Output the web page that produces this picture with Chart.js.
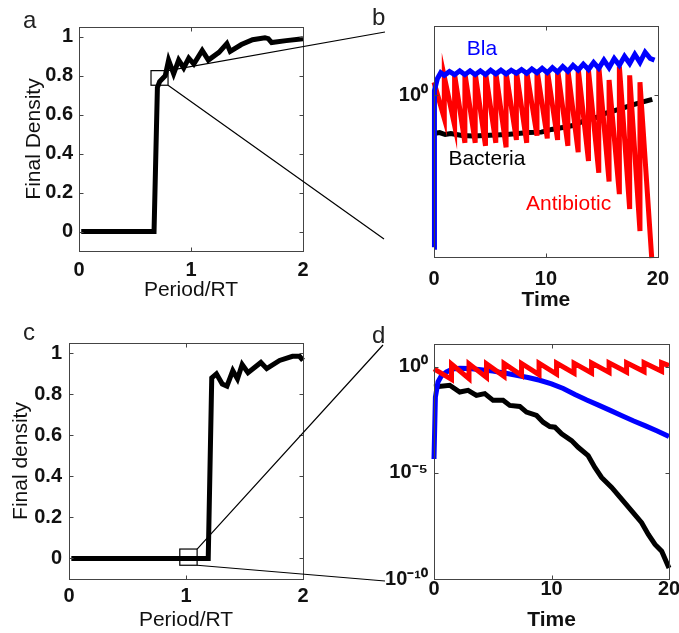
<!DOCTYPE html>
<html>
<head>
<meta charset="utf-8">
<title>Final density and time courses</title>
<script src="https://cdn.jsdelivr.net/npm/chart.js@4.4.1/dist/chart.umd.min.js"></script>
<style>
  body { margin: 0; background: #fff; }
  #fig { position: relative; width: 679px; height: 633px; background: #fff; }
  #fig canvas { position: absolute; left: 0; top: 0; }
</style>
</head>
<body>
<div id="fig">
  <canvas id="panelA" width="679" height="633"></canvas>
  <canvas id="panelB" width="679" height="633"></canvas>
  <canvas id="panelC" width="679" height="633"></canvas>
  <canvas id="panelD" width="679" height="633"></canvas>
</div>
<script>
// final density against dosing period, top row (a)
var aPeriod  = [0.02, 0.67, 0.70, 0.72, 0.77, 0.80, 0.845, 0.89, 0.935, 0.98, 1.025, 1.10, 1.155, 1.25, 1.32, 1.35, 1.45, 1.55, 1.66, 1.69, 1.72, 1.85, 2.0];
var aDensity = [0, 0, 0.74, 0.77, 0.80, 0.88, 0.81, 0.88, 0.84, 0.89, 0.86, 0.93, 0.88, 0.92, 0.965, 0.925, 0.96, 0.985, 0.995, 0.99, 0.97, 0.98, 0.99];

// final density against dosing period, bottom row (c)
var cPeriod  = [0.02, 1.19, 1.22, 1.26, 1.31, 1.35, 1.40, 1.44, 1.48, 1.53, 1.64, 1.69, 1.80, 1.91, 1.97, 2.0];
var cDensity = [0, 0, 0.88, 0.90, 0.85, 0.84, 0.915, 0.875, 0.945, 0.905, 0.955, 0.925, 0.965, 0.985, 0.985, 0.965];

// time courses, top right (b)
var bBlaTime = [0, 0.04, 0.3, 0.6, 0.92, 1.38, 1.84, 2.3, 2.76, 3.22, 3.68, 4.14, 4.6, 5.06, 5.52, 5.98, 6.44, 6.9, 7.36, 7.82, 8.28, 8.74, 9.2, 9.66, 10.12, 10.58, 11.04, 11.5, 11.96, 12.42, 12.88, 13.34, 13.8, 14.26, 14.72, 15.18, 15.64, 16.1, 16.56, 17.02, 17.48, 17.94, 18.4, 18.86, 19.32, 19.7];
var bBla     = [0.165, 1.06, 1.22, 1.31, 1.27, 1.33, 1.28, 1.34, 1.28, 1.34, 1.28, 1.34, 1.28, 1.35, 1.29, 1.35, 1.29, 1.35, 1.30, 1.36, 1.30, 1.37, 1.31, 1.38, 1.31, 1.39, 1.32, 1.41, 1.33, 1.43, 1.35, 1.45, 1.36, 1.48, 1.38, 1.52, 1.39, 1.55, 1.43, 1.59, 1.46, 1.63, 1.48, 1.67, 1.55, 1.52];
var bBacteriaTime = [0, 0.5, 1, 1.5, 2.5, 3.5, 4.5, 5.5, 6.5, 7.5, 8.5, 9.6, 10.5, 11.5, 12.4, 13.5, 14.5, 15.3, 16.5, 17.6, 18.5, 19.5];
var bBacteria     = [0.637, 0.644, 0.629, 0.637, 0.622, 0.618, 0.622, 0.626, 0.629, 0.637, 0.644, 0.647, 0.668, 0.684, 0.700, 0.743, 0.770, 0.808, 0.847, 0.888, 0.920, 0.954];
var bDoseTime   = [0, 0.92, 1.84, 2.76, 3.68, 4.6, 5.52, 6.44, 7.36, 8.28, 9.2, 10.12, 11.04, 11.96, 12.88, 13.8, 14.72, 15.64, 16.56, 17.48, 18.4];
var bDosePeak   = [1.17, 1.25, 1.28, 1.30, 1.30, 1.31, 1.31, 1.31, 1.33, 1.33, 1.35, 1.35, 1.36, 1.36, 1.38, 1.35, 1.41, 1.20, 1.41, 1.27, 1.17];
var bDoseTrough = [0.76, 0.70, 0.57, 0.57, 0.55, 0.57, 0.54, 0.59, 0.57, 0.62, 0.60, 0.59, 0.55, 0.51, 0.46, 0.40, 0.36, 0.31, 0.26, 0.20, 0.145];
var bLastTime = 19.45;

// time courses, bottom right (d)
var dBlaTime = [0, 0.12, 0.34, 0.6, 1.06, 1.6, 2.2, 3, 4, 5, 6, 7, 8, 9, 10, 11, 12, 13, 14, 15, 16, 17, 18, 19, 20];
var dBla     = [4.57e-5, 0.038, 0.195, 0.355, 0.575, 0.794, 0.851, 0.832, 0.741, 0.631, 0.513, 0.407, 0.316, 0.234, 0.158, 0.0955, 0.0501, 0.0275, 0.0158, 0.00891, 0.00501, 0.00282, 0.00166, 9.55e-4, 5.25e-4];
var dBacteriaTime = [0, 1.34, 2.19, 2.90, 3.61, 4.32, 5.03, 5.88, 6.45, 7.30, 7.87, 8.73, 9.29, 9.86, 10.29, 10.86, 11.71, 12.27, 13.12, 13.69, 14.26, 15.12, 15.97, 16.82, 17.67, 18.24, 18.81, 19.38, 20.0];
var dBacteria     = [0.1127, 0.1358, 0.0653, 0.0787, 0.0456, 0.0548, 0.0264, 0.0264, 0.0153, 0.0137, 0.00736, 0.00514, 0.00247, 0.00155, 0.00143, 6.98e-4, 3.36e-4, 1.62e-4, 6.53e-5, 1.82e-5, 6.12e-6, 2.06e-6, 5.79e-7, 1.62e-7, 4.51e-8, 1.27e-8, 4.27e-9, 2.06e-9, 3.32e-10];
var dDoseTime   = [0, 1.49, 2.98, 4.47, 5.96, 7.45, 8.94, 10.43, 11.92, 13.41, 14.9, 16.39, 17.88, 19.37];
var dDosePeak   = [0.80, 1.35, 1.40, 1.40, 1.45, 1.45, 1.50, 1.50, 1.50, 1.55, 1.55, 1.55, 1.58, 1.58];
var dDoseTrough = [0.26, 0.28, 0.32, 0.36, 0.40, 0.43, 0.46, 0.50, 0.52, 0.55, 0.57, 0.60, 0.62, 1.15];
var dLastTime = 20;

// tick labels
var densityTicks = [0, 0.2, 0.4, 0.6, 0.8, 1];
var periodTicks = [0, 1, 2];
var timeTicks = [0, 10, 20];
var bLogTicks = [1];
var dLogTicks = [1e-10, 1e-5, 1];

var FONT = "'Liberation Sans', Arial, Helvetica, sans-serif";
var SUP = {'-': '\u207B', '0': '\u2070', '1': '\u00B9', '5': '\u2075'};

function pow10(v) {
  var e = String(Math.round(Math.log10(v)));
  return '10' + e.split('').map(function (c) { return SUP[c]; }).join('');
}

function xy(xs, ys) {
  return xs.map(function (x, i) { return {x: x, y: ys[i]}; });
}

// each dose jumps the antibiotic up to its peak, then it decays to a trough at the next dose
function doses(times, peaks, troughs, end) {
  var pts = [];
  times.forEach(function (t, i) {
    pts.push({x: t, y: peaks[i]});
    pts.push({x: i + 1 < times.length ? times[i + 1] : end, y: troughs[i]});
  });
  return pts;
}

function line(data, color, order) {
  return {data: data, borderColor: color, borderWidth: 5, pointRadius: 0, tension: 0, fill: false,
          clip: 3, order: order || 0};
}

function axis(o) {
  return {
    type: o.type || 'linear',
    min: o.min,
    max: o.max,
    grid: {display: false, drawTicks: false},
    border: {display: false},
    ticks: {
      font: {family: FONT, size: 20, weight: 'bold'},
      color: '#111',
      padding: o.pad,
      autoSkip: false,
      maxRotation: 0,
      callback: o.fmt || function (v) { return String(v); }
    },
    title: o.title ? {
      display: true,
      text: o.title,
      font: {family: FONT, size: 21, weight: o.bold ? 'bold' : 'normal'},
      color: '#111',
      padding: o.titlePad
    } : {display: false},
    afterBuildTicks: function (s) {
      s.ticks = o.ticks.map(function (v) { return {value: v}; });
    },
    afterFit: function (s) {
      if (s.isHorizontal()) s.height = o.size; else s.width = o.size;
    }
  };
}

// axes box with inward ticks on all four sides, plus whatever the panel adds
function frame(extra) {
  return {
    id: 'frame',
    afterDraw: function (chart) {
      var ctx = chart.ctx, a = chart.chartArea, sx = chart.scales.x, sy = chart.scales.y;
      var L = Math.round(a.left) + 0.5, R = Math.round(a.right) + 0.5;
      var T = Math.round(a.top) + 0.5, B = Math.round(a.bottom) + 0.5;
      ctx.save();
      ctx.strokeStyle = '#444';
      ctx.lineWidth = 1;
      ctx.strokeRect(L, T, R - L, B - T);
      ctx.beginPath();
      sx.ticks.forEach(function (t) {
        var p = Math.round(sx.getPixelForValue(t.value)) + 0.5;
        ctx.moveTo(p, B); ctx.lineTo(p, B - 4);
        ctx.moveTo(p, T); ctx.lineTo(p, T + 4);
      });
      sy.ticks.forEach(function (t) {
        var p = Math.round(sy.getPixelForValue(t.value)) + 0.5;
        ctx.moveTo(L, p); ctx.lineTo(L + 4, p);
        ctx.moveTo(R, p); ctx.lineTo(R - 4, p);
      });
      ctx.stroke();
      if (extra) extra(ctx, sx, sy);
      ctx.restore();
    }
  };
}

function letter(ctx, s, x, y) {
  ctx.font = '24px ' + FONT;
  ctx.fillStyle = '#222';
  ctx.textAlign = 'left';
  ctx.textBaseline = 'alphabetic';
  ctx.fillText(s, x, y);
}

// small box on the curve and the two lines leading out to the time-course panel
function zoomBox(ctx, sx, sy, box, ends) {
  var x0 = sx.getPixelForValue(box[0]), x1 = sx.getPixelForValue(box[1]);
  var y0 = sy.getPixelForValue(box[2]), y1 = sy.getPixelForValue(box[3]);
  ctx.strokeStyle = '#000';
  ctx.lineWidth = 1.2;
  ctx.strokeRect(x0, y1, x1 - x0, y0 - y1);
  ctx.beginPath();
  ctx.moveTo(x1, y1); ctx.lineTo(ends[0][0], ends[0][1]);
  ctx.moveTo(x1, y0); ctx.lineTo(ends[1][0], ends[1][1]);
  ctx.stroke();
}

function base(padding, scales) {
  return {
    responsive: false,
    animation: false,
    devicePixelRatio: 1,
    layout: {padding: padding},
    plugins: {legend: {display: false}, tooltip: {enabled: false}},
    scales: scales
  };
}

new Chart(document.getElementById('panelA'), {
  type: 'line',
  data: {datasets: [line(xy(aPeriod, aDensity), '#000')]},
  options: base({left: 0, top: 27, right: 376, bottom: 322}, {
    x: axis({min: 0, max: 2, ticks: periodTicks, size: 60, pad: 7, title: 'Period/RT', titlePad: {top: 0, bottom: 8}}),
    y: axis({min: -0.1, max: 1.05, ticks: densityTicks, size: 79, pad: 6, title: 'Final Density', titlePad: {top: 22, bottom: 0}})
  }),
  plugins: [frame(function (ctx, sx, sy) {
    letter(ctx, 'a', 23, 28);
    zoomBox(ctx, sx, sy, [0.643, 0.795, 0.751, 0.826], [[385, 32], [384, 239]]);
  })]
});

new Chart(document.getElementById('panelB'), {
  type: 'line',
  data: {datasets: [
    line(xy(bBlaTime, bBla), '#0000ff', 0),
    line(doses(bDoseTime, bDosePeak, bDoseTrough, bLastTime), '#ff0000', 1),
    line(xy(bBacteriaTime, bBacteria), '#000', 2)
  ]},
  options: base({left: 374, top: 26, right: 12, bottom: 316}, {
    x: axis({min: 0, max: 20, ticks: timeTicks, size: 60, pad: 10, title: 'Time', bold: true, titlePad: {top: 0, bottom: 4}}),
    y: axis({type: 'logarithmic', min: 0.147, max: 2.28, ticks: bLogTicks, size: 60, pad: 6, fmt: pow10})
  }),
  plugins: [frame(function (ctx, sx, sy) {
    letter(ctx, 'b', 372, 25);
    ctx.font = '21px ' + FONT;
    ctx.textAlign = 'center';
    ctx.textBaseline = 'middle';
    [['Bla', 4.28, 1.74, '#0000ff'], ['Bacteria', 4.73, 0.472, '#000'], ['Antibiotic', 12.02, 0.276, '#ff0000']].forEach(function (n) {
      ctx.fillStyle = n[3];
      ctx.fillText(n[0], sx.getPixelForValue(n[1]), sy.getPixelForValue(n[2]));
    });
  })]
});

new Chart(document.getElementById('panelC'), {
  type: 'line',
  data: {datasets: [line(xy(cPeriod, cDensity), '#000')]},
  options: base({left: 0, top: 343, right: 376, bottom: 0}, {
    x: axis({min: 0, max: 2, ticks: periodTicks, size: 54, pad: 5, title: 'Period/RT', titlePad: {top: 0, bottom: 0}}),
    y: axis({min: -0.1, max: 1.05, ticks: densityTicks, size: 69, pad: 7, title: 'Final density', titlePad: {top: 9, bottom: 0}})
  }),
  plugins: [frame(function (ctx, sx, sy) {
    letter(ctx, 'c', 23, 340);
    zoomBox(ctx, sx, sy, [0.947, 1.095, -0.033, 0.046], [[383, 345], [385, 581]]);
  })]
});

new Chart(document.getElementById('panelD'), {
  type: 'line',
  data: {datasets: [
    line(doses(dDoseTime, dDosePeak, dDoseTrough, dLastTime), '#ff0000', 0),
    line(xy(dBlaTime, dBla), '#0000ff', 1),
    line(xy(dBacteriaTime, dBacteria), '#000', 2)
  ]},
  options: base({left: 374, top: 344, right: 10, bottom: 0}, {
    x: axis({min: 0, max: 20, ticks: timeTicks, size: 54, pad: -2, title: 'Time', bold: true, titlePad: {top: 0, bottom: 0}}),
    y: axis({type: 'logarithmic', min: 1e-10, max: 12, ticks: dLogTicks, size: 60, pad: 6, fmt: pow10})
  }),
  plugins: [frame(function (ctx) {
    letter(ctx, 'd', 372, 343);
  })]
});
</script>
</body>
</html>
